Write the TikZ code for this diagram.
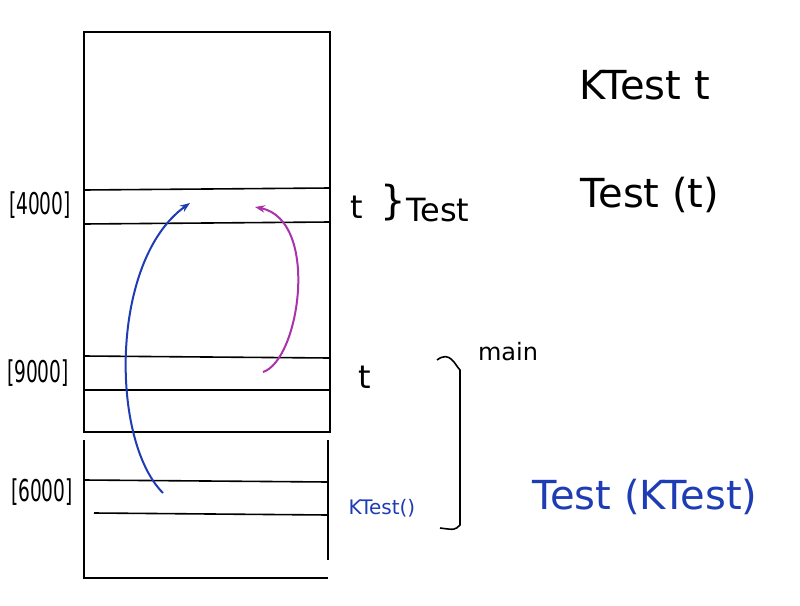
\documentclass[tikz,border=0pt]{standalone}
\usepackage{fontspec}
\setmainfont{DejaVu Sans}
\usetikzlibrary{arrows.meta}
\definecolor{hb}{RGB}{30,60,180}
\definecolor{hp}{RGB}{170,50,170}
\tikzset{ln/.style={line width=1.6pt,black},lbl/.style={font=\fontsize{30}{34}\selectfont},mid/.style={font=\fontsize{32}{36}\selectfont},big/.style={font=\fontsize{40}{46}\selectfont}}
\begin{document}
\begin{tikzpicture}[x=1pt,y=-1pt]
\useasboundingbox[fill=white] (0,0) rectangle (800,605);
\draw[ln] (84,32) rectangle (330,432);
\draw[ln] (84,190) -- (330,188);
\draw[ln] (84,224) -- (330,222);
\draw[ln] (84,356) -- (330,358);
\draw[ln] (84,390) -- (330,390);
\draw[ln] (84,440) -- (84,578) -- (328,578);
\draw[ln] (328,440) -- (328,560);
\draw[ln] (84,480) -- (328,482);
\draw[ln] (94,513) -- (328,515);
\node[lbl,xscale=0.62] (a) at (40,205) {[4000]};
\node[lbl,xscale=0.62] (b) at (38,373) {[9000]};
\node[lbl,xscale=0.62] (c) at (42,492) {[6000]};
\node[mid] (t1) at (357,207) {t};
\node[font=\fontsize{40}{44}\selectfont] (br) at (393,203) {\}};
\node[mid] (tst) at (438,210) {Test};
\node[mid] (t2) at (365,377) {t};
\node[hb,font=\fontsize{20}{24}\selectfont] (kt) at (382,508) {KTest()};
\draw[ln] (437,360) .. controls (450,350) and (455,365) .. (460,370) -- (460,525) .. controls (455,530) .. (440,528);
\node[font=\fontsize{24}{28}\selectfont] (main) at (508,352) {main};
\node[big] (k1) at (645,85) {KTest\,\,t};
\node[big] (k2) at (650,195) {Test (t)};
\node[big,hb] (k3) at (645,497) {Test (KTest)};
\coordinate (bs) at (163,493);
\coordinate (be) at (190,203);
\coordinate (ps) at (263,372);
\coordinate (pe) at (255,207);
\draw[hb,line width=2pt,-{Stealth[length=10pt]}] (bs) .. controls (110,440) and (110,260) .. (be);
\draw[hp,line width=2pt,-{Stealth[length=10pt]}] (ps) .. controls (300,360) and (320,220) .. (pe);
\end{tikzpicture}
\end{document}
